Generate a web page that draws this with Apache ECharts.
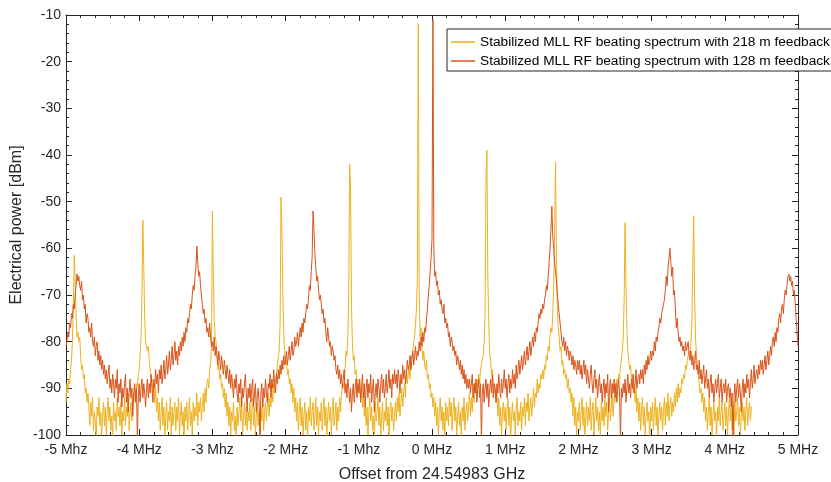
<!DOCTYPE html>
<html>
<head>
<meta charset="utf-8">
<title>Stabilized MLL RF beating spectrum</title>
<script src="https://cdn.jsdelivr.net/npm/echarts@6/dist/echarts.min.js"></script>
<style>
  html, body { margin: 0; padding: 0; background: #fff; }
  #chart { width: 831px; height: 482px; }
</style>
</head>
<body>
<div id="chart"></div>
<script>
// sampling grid of the analyser trace (MHz): value i sits at FREQ_START + i * FREQ_STEP
const FREQ_START = -5;
const FREQ_STEP = 0.0125;

const xTickLabels = ['-5 Mhz', '-4 MHz', '-3 Mhz', '-2 MHz', '-1 Mhz', '0 MHz', '1 MHz', '2 MHz', '3 MHz', '4 MHz', '5 MHz'];

const seriesNames = [
  'Stabilized MLL RF beating spectrum with 218 m feedback',
  'Stabilized MLL RF beating spectrum with 128 m feedback'
];

// 218 m feedback, dBm, -5 MHz .. 4.375 MHz (40 samples = 0.5 MHz per block)
const power218 = [
  -93, -89, -91, -88, -89, -86, -84, -80, -72, -61.5, -67, -74, -79, -78, -80, -79, -83, -86, -85, -88,
  -87, -91, -90, -93, -91, -94, -98, -93, -96, -92, -99, -95, -97, -101, -94, -96, -92, -98, -95, -100,
  // -4.5
  -96, -93, -98, -94, -100, -95, -92, -97, -94, -99, -96, -101, -93, -97, -95, -99, -92, -96, -94, -98,
  -93, -100, -95, -97, -92, -98, -94, -96, -91, -99, -95, -93, -97, -92, -93, -90, -92, -89, -90, -87,
  // -4.0
  -86, -83, -79, -70, -54, -64, -75, -80, -80, -82, -81, -84, -86, -89, -88, -91, -89, -93, -90, -95,
  -92, -97, -93, -99, -95, -92, -98, -94, -101, -96, -93, -99, -95, -97, -92, -100, -94, -98, -95, -93,
  // -3.5
  -99, -94, -97, -92, -100, -96, -93, -98, -95, -101, -94, -97, -93, -99, -96, -92, -98, -95, -100, -93,
  -97, -94, -96, -91, -98, -93, -95, -92, -97, -94, -91, -95, -90, -93, -89, -88, -90, -86, -85, -81,
  // -3.0
  -52, -66, -75, -79, -80, -83, -86, -85, -88, -87, -90, -89, -92, -90, -94, -91, -96, -93, -98, -94,
  -100, -95, -97, -93, -99, -96, -101, -94, -98, -95, -92, -97, -94, -100, -96, -93, -98, -94, -99, -95,
  // -2.5
  -97, -93, -99, -95, -92, -98, -94, -100, -96, -93, -98, -95, -101, -94, -97, -92, -99, -95, -93, -97,
  -94, -91, -96, -92, -94, -90, -93, -89, -91, -88, -87, -85, -85, -82, -76, -49, -57, -70, -78, -82,
  // -2.0
  -85, -84, -87, -86, -89, -88, -91, -89, -93, -90, -95, -92, -97, -93, -99, -95, -92, -98, -94, -100,
  -96, -93, -99, -95, -101, -94, -97, -92, -98, -95, -93, -99, -96, -92, -98, -94, -100, -95, -97, -93,
  // -1.5
  -99, -95, -92, -98, -94, -101, -96, -93, -97, -94, -100, -95, -92, -98, -96, -93, -99, -94, -97, -92,
  -95, -91, -91, -89, -90, -86, -82, -83, -79, -70, -42, -47, -72, -80, -84, -83, -87, -86, -89, -88,
  // -1.0
  -91, -89, -92, -90, -94, -91, -96, -93, -98, -94, -100, -95, -92, -97, -94, -99, -96, -101, -93, -97,
  -95, -92, -98, -94, -100, -96, -93, -99, -95, -97, -92, -98, -94, -101, -95, -93, -97, -94, -99, -96,
  // -0.5
  -93, -97, -92, -95, -91, -96, -93, -90, -94, -91, -89, -92, -86, -89, -87, -85, -88, -84, -83, -82,
  -80, -79, -76, -73, -66, -12, -68, -79, -77, -81, -84, -82, -85, -86, -84, -88, -87, -90, -89, -92,
  // 0.0
  -91, -94, -92, -96, -93, -98, -94, -100, -95, -92, -97, -94, -99, -95, -101, -93, -97, -94, -98, -92,
  -96, -93, -99, -95, -92, -97, -94, -100, -96, -93, -98, -95, -101, -94, -97, -92, -99, -95, -93, -97,
  // 0.5
  -94, -91, -96, -92, -95, -90, -93, -89, -91, -88, -90, -87, -89, -86, -85, -84, -83, -80, -74, -45,
  -39, -66, -76, -82, -84, -87, -86, -89, -91, -90, -93, -91, -96, -92, -98, -94, -100, -95, -93, -97,
  // 1.0
  -94, -99, -95, -92, -98, -94, -101, -96, -93, -97, -95, -100, -94, -92, -98, -95, -97, -93, -99, -94,
  -96, -92, -98, -93, -95, -91, -97, -94, -92, -96, -93, -90, -94, -91, -92, -88, -91, -89, -90, -87,
  // 1.5
  -88, -86, -88, -85, -86, -83, -84, -81, -82, -79, -77, -78, -74, -68, -56, -41.5, -62, -72, -77, -79,
  -82, -81, -85, -84, -87, -86, -88, -87, -90, -88, -91, -90, -93, -91, -96, -92, -98, -94, -100, -95,
  // 2.0
  -97, -93, -99, -95, -92, -98, -94, -101, -96, -93, -98, -94, -97, -92, -99, -95, -93, -100, -96, -92,
  -97, -94, -99, -95, -101, -93, -97, -94, -98, -92, -96, -93, -99, -95, -92, -97, -94, -91, -96, -92,
  // 2.5
  -93, -90, -88, -90, -87, -88, -85, -84, -82, -79, -71, -54.5, -68, -77, -82, -84, -86, -85, -88, -87,
  -91, -89, -93, -90, -95, -92, -97, -93, -99, -95, -92, -98, -94, -100, -96, -93, -97, -95, -101, -94,
  // 3.0
  -97, -93, -99, -95, -92, -98, -94, -100, -96, -93, -97, -94, -99, -95, -92, -98, -93, -96, -91, -97,
  -94, -92, -96, -93, -95, -91, -94, -90, -93, -89, -92, -90, -91, -88, -89, -87, -88, -85, -86, -84,
  // 3.5
  -84, -82, -83, -80, -76, -64, -53, -70, -79, -83, -85, -87, -89, -91, -90, -93, -91, -95, -92, -97,
  -94, -99, -95, -92, -98, -94, -100, -96, -93, -97, -95, -101, -94, -97, -92, -98, -95, -93, -99, -96,
  // 4.0 .. 4.375
  -93, -98, -94, -100, -95, -92, -97, -94, -99, -96, -101, -93, -97, -95, -92, -98, -94, -100, -96, -93,
  -97, -94, -99, -95, -92, -98, -95, -93, -97, -94, -94
];

// 128 m feedback, dBm, -5 MHz .. 5 MHz
const power128 = [
  -81, -80, -78, -79, -76, -77, -74, -75, -72, -73, -70, -68, -65.5, -67, -66, -68, -69, -67, -71, -70,
  -73, -72, -76, -74, -75, -78, -77, -79, -76, -80, -81, -79, -83, -81, -80, -84, -82, -85, -83, -86,
  // -4.5
  -84, -87, -85, -88, -86, -89, -87, -85, -90, -88, -91, -87, -89, -92, -88, -90, -86, -93, -89, -91,
  -88, -94, -90, -92, -89, -87, -93, -90, -95, -91, -88, -92, -90, -96, -91, -89, -93, -90, -101, -92,
  // -4.0
  -89, -93, -90, -88, -92, -89, -91, -94, -90, -88, -92, -89, -91, -87, -90, -93, -88, -90, -86, -89,
  -87, -91, -86, -88, -85, -89, -87, -84, -88, -86, -83, -87, -85, -82, -86, -84, -81, -85, -83, -80,
  // -3.5
  -84, -82, -85, -81, -83, -80, -82, -79, -81, -78, -80, -77, -78, -75, -76, -74, -72, -73, -70, -68,
  -69, -66, -64, -59.5, -63, -66, -65, -68, -70, -72, -74, -73, -76, -75, -78, -77, -79, -76, -79, -81,
  // -3.0
  -80, -82, -79, -83, -81, -83, -85, -82, -84, -86, -83, -85, -87, -84, -86, -88, -85, -87, -89, -86,
  -90, -87, -89, -92, -88, -90, -87, -91, -93, -89, -91, -88, -94, -90, -92, -89, -87, -91, -95, -90,
  // -2.5
  -92, -89, -93, -90, -88, -94, -91, -89, -95, -92, -90, -93, -101, -91, -89, -94, -90, -92, -88, -91,
  -93, -89, -90, -87, -92, -88, -90, -86, -89, -91, -87, -89, -86, -88, -85, -87, -84, -86, -83, -85,
  // -2.0
  -84, -82, -85, -83, -81, -84, -82, -80, -83, -82, -79, -81, -80, -78, -81, -79, -77, -79, -76, -78,
  -75, -76, -74, -72, -73, -71, -68, -69, -65, -62, -52, -56, -61, -64, -67, -66, -69, -71, -70, -72,
  // -1.5
  -74, -73, -76, -75, -78, -80, -77, -79, -81, -80, -83, -81, -82, -84, -83, -86, -87, -85, -88, -86,
  -89, -87, -90, -88, -86, -91, -89, -92, -88, -90, -93, -90, -95, -91, -89, -93, -90, -88, -92, -89,
  // -1.0
  -91, -88, -93, -90, -87, -92, -89, -94, -90, -88, -92, -89, -91, -87, -93, -90, -88, -95, -91, -89,
  -92, -88, -90, -93, -89, -87, -91, -88, -92, -90, -87, -91, -89, -86, -90, -88, -92, -87, -89, -86,
  // -0.5
  -89, -87, -90, -86, -88, -91, -87, -89, -85, -88, -86, -89, -87, -84, -86, -85, -83, -86, -84, -82,
  -85, -83, -81, -84, -82, -83, -80, -82, -79, -81, -78, -80, -77, -78, -75, -73, -70, -68, -65, -62,
  // 0.0
  -58, -11, -60, -66, -65, -68, -67, -70, -69, -72, -71, -73, -74, -72, -76, -75, -77, -76, -79, -78,
  -81, -79, -80, -82, -81, -83, -82, -85, -83, -84, -86, -84, -87, -85, -88, -86, -89, -87, -90, -88,
  // 0.5
  -90, -88, -91, -89, -87, -92, -89, -91, -88, -93, -90, -88, -92, -89, -101, -91, -89, -93, -90, -88,
  -92, -89, -94, -90, -88, -91, -87, -92, -89, -90, -93, -89, -91, -87, -90, -92, -88, -91, -89, -86,
  // 1.0
  -90, -88, -92, -89, -87, -91, -88, -90, -86, -89, -87, -90, -85, -88, -86, -84, -87, -85, -83, -86,
  -84, -82, -85, -83, -81, -84, -82, -80, -83, -81, -79, -81, -78, -80, -77, -78, -76, -74, -75, -73,
  // 1.5
  -74, -72, -73, -71, -70, -68, -69, -66, -63, -60, -56, -51, -57.5, -60, -63, -65, -67, -70, -72, -74,
  -76, -78, -80, -81, -79, -82, -80, -83, -81, -82, -84, -82, -83, -85, -83, -86, -84, -85, -87, -84,
  // 2.0
  -86, -84, -87, -85, -88, -86, -84, -87, -85, -89, -86, -88, -90, -87, -85, -89, -91, -88, -86, -90,
  -88, -92, -89, -87, -91, -89, -93, -90, -88, -92, -89, -91, -87, -95, -90, -88, -92, -89, -91, -88,
  // 2.5
  -92, -89, -93, -90, -88, -91, -101, -90, -92, -89, -91, -88, -93, -90, -87, -91, -89, -92, -88, -90,
  -87, -91, -89, -86, -90, -88, -87, -89, -86, -88, -86, -89, -85, -87, -84, -86, -83, -85, -84, -82,
  // 3.0
  -84, -82, -83, -80, -82, -79, -80, -78, -77, -75, -76, -74, -73, -72, -71, -69, -66, -68, -64, -62,
  -60, -63, -66, -64, -70, -69, -73, -77, -75, -78, -80, -79, -81, -80, -82, -81, -83, -80, -82, -81,
  // 3.5
  -80, -83, -84, -82, -85, -83, -86, -84, -82, -86, -85, -87, -84, -88, -86, -89, -87, -85, -90, -88,
  -86, -90, -88, -92, -89, -87, -91, -89, -93, -90, -88, -91, -89, -87, -92, -90, -88, -93, -90, -89,
  // 4.0
  -91, -88, -93, -90, -89, -92, -90, -94, -91, -101, -92, -89, -93, -90, -88, -92, -89, -91, -95, -90,
  -88, -92, -89, -91, -87, -90, -88, -92, -89, -86, -90, -88, -85, -89, -87, -86, -88, -85, -87, -84,
  // 4.5
  -86, -84, -87, -85, -83, -86, -84, -82, -85, -83, -81, -83, -80, -79, -81, -78, -80, -77, -78, -75,
  -74, -76, -73, -72, -74, -71, -69, -70, -68, -66, -65.5, -67, -66, -68, -67, -70, -69, -72, -75, -78,
  // 5.0
  -81
];

const AXIS = '#262626';
const FONT = '"Liberation Sans", Arial, Helvetica, sans-serif';

const toPoints = vals => vals.map((v, i) => [FREQ_START + i * FREQ_STEP, v]);

const chart = echarts.init(document.getElementById('chart'), null, { renderer: 'canvas' });

const tickStyle = { inside: true, length: 6, lineStyle: { color: AXIS, width: 1 } };
const minorStyle = { show: true, splitNumber: 5, length: 3, lineStyle: { color: AXIS, width: 1 } };
const axisLine = { show: true, onZero: false, lineStyle: { color: AXIS, width: 1 } };

const option = {
  animation: false,
  backgroundColor: '#fff',
  grid: { left: 66, right: 33, top: 15, bottom: 47, outerBoundsMode: 'none' },
  legend: {
    orient: 'vertical',
    left: 447,
    top: 29,
    padding: [6, 4, 3, 4],
    itemGap: 5,
    itemWidth: 24,
    itemHeight: 1.5,
    icon: 'rect',
    backgroundColor: '#fff',
    borderColor: AXIS,
    borderWidth: 1,
    selectedMode: false,
    textStyle: { fontSize: 13.7, color: '#000', fontFamily: FONT, lineHeight: 13 },
    data: seriesNames
  },
  xAxis: [
    {
      type: 'value', min: -5, max: 5, interval: 1, position: 'bottom',
      axisLine: axisLine,
      axisTick: tickStyle,
      minorTick: minorStyle,
      splitLine: { show: false },
      axisLabel: {
        formatter: v => xTickLabels[Math.round(v) + 5],
        margin: 8, fontSize: 14, color: AXIS, fontFamily: FONT
      },
      name: 'Offset from 24.54983 GHz',
      nameLocation: 'middle',
      nameGap: 32,
      nameMoveOverlap: false,
      nameTextStyle: { fontSize: 16, color: AXIS, fontFamily: FONT }
    },
    {
      type: 'value', min: -5, max: 5, interval: 1, position: 'top',
      axisLine: axisLine,
      axisTick: tickStyle,
      minorTick: minorStyle,
      splitLine: { show: false },
      axisLabel: { show: false }
    }
  ],
  yAxis: [
    {
      type: 'value', min: -100, max: -10, interval: 10, position: 'left',
      axisLine: axisLine,
      axisTick: tickStyle,
      minorTick: minorStyle,
      splitLine: { show: false },
      axisLabel: { margin: 5, fontSize: 14, color: AXIS, fontFamily: FONT },
      name: 'Electrical power [dBm]',
      nameLocation: 'middle',
      nameGap: 41,
      nameMoveOverlap: false,
      nameTextStyle: { fontSize: 16, color: AXIS, fontFamily: FONT }
    },
    {
      type: 'value', min: -100, max: -10, interval: 10, position: 'right',
      axisLine: axisLine,
      axisTick: tickStyle,
      minorTick: minorStyle,
      splitLine: { show: false },
      axisLabel: { show: false }
    }
  ],
  series: [
    {
      name: seriesNames[0],
      type: 'line',
      data: toPoints(power218),
      showSymbol: false,
      symbol: 'none',
      clip: true,
      color: '#EDB120',
      lineStyle: { width: 1, color: '#EDB120' }
    },
    {
      name: seriesNames[1],
      type: 'line',
      data: toPoints(power128),
      showSymbol: false,
      symbol: 'none',
      clip: true,
      color: '#D95319',
      lineStyle: { width: 1, color: '#D95319' }
    }
  ]
};

chart.setOption(option);
</script>
</body>
</html>
